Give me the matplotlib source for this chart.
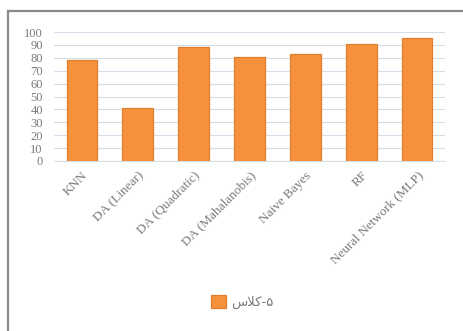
import numpy as np
import matplotlib.pyplot as plt
from matplotlib.lines import Line2D

# accuracy (%) of each classifier
models = ["KNN", "DA (Linear)", "DA (Quadratic)", "DA (Mahalanobis)",
          "Naive Bayes", "RF", "Neural Network (MLP)"]
accuracy = [78, 41, 88, 81, 83, 91, 95]
yticks = list(range(0, 101, 10))
# legend label, given in visual order with Arabic presentation forms
series_label = "\ufeb1\ufefc\ufb90-\u06f5"

txt = "#7A7A7A"
bar_col = "#F7923C"

fig = plt.figure(figsize=(4.63, 3.31), dpi=100)
ax = fig.add_axes([0.1166, 0.5136, 0.8445, 0.3897])

x = np.arange(len(models))
bars = ax.bar(x, accuracy, width=0.55, color=bar_col, edgecolor="#E27D2C",
              linewidth=0.9, zorder=3, label=series_label)

ax.set_xlim(-0.5, len(models) - 0.5)
ax.set_ylim(0, 100)
ax.set_yticks(yticks)
ax.set_yticklabels([str(v) for v in yticks], fontfamily="Liberation Serif",
                   fontsize=9, color=txt)
ax.set_xticks(x)
ax.set_xticklabels(models, rotation=45, ha="right", rotation_mode="anchor",
                   fontfamily="Liberation Serif", fontsize=9.5, color=txt)
ax.tick_params(axis="both", length=0)
ax.tick_params(axis="y", pad=8)
ax.tick_params(axis="x", pad=6)
ax.grid(axis="y", color="#D5DEE8", linewidth=0.8, zorder=0)
for s in ["top", "right", "left"]:
    ax.spines[s].set_visible(False)
ax.spines["bottom"].set_color("#D5DEE8")

# legend under the chart
fig.legend(handles=[bars], labels=[series_label], loc="center",
           bbox_to_anchor=(0.523, 0.088), frameon=False, handlelength=1.1,
           handleheight=1.1, handletextpad=0.4,
           prop={"family": "DejaVu Sans", "size": 9.5}, labelcolor=txt)

# outer frame lines
fig.add_artist(Line2D([0.0173, 1.0], [0.9668, 0.9668], color="#8A8A8A",
                      linewidth=1.6, transform=fig.transFigure))
fig.add_artist(Line2D([0.0173, 0.0173], [0.0, 0.9668], color="#8A8A8A",
                      linewidth=1.6, transform=fig.transFigure))

fig.savefig("out.png", dpi=100)
